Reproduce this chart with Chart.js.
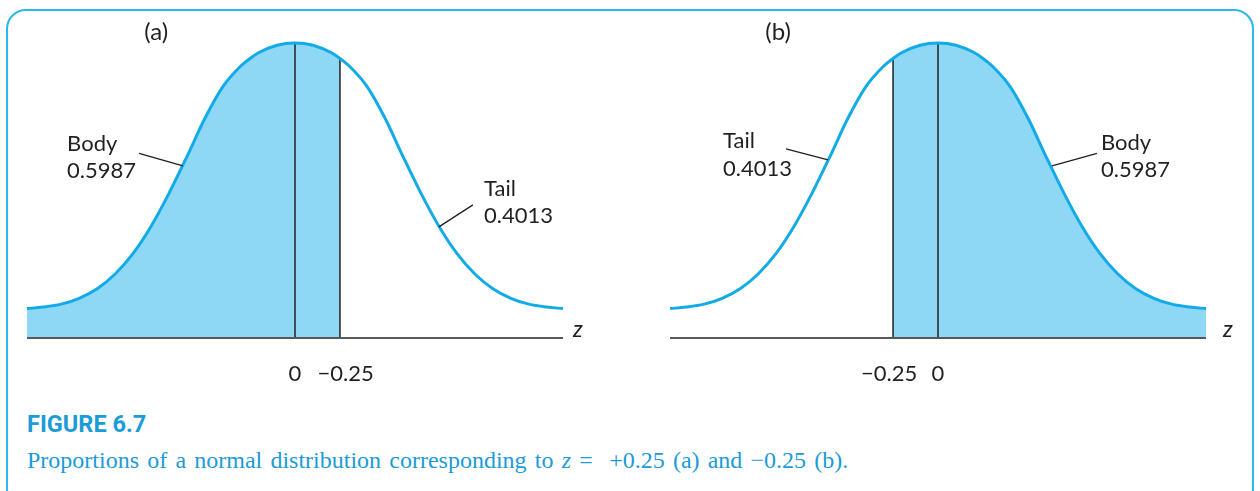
<!DOCTYPE html>
<html>
<head>
<meta charset="utf-8">
<script src="https://cdn.jsdelivr.net/npm/chart.js@4.4.0/dist/chart.umd.min.js"></script>
<style>
  html, body { margin: 0; padding: 0; background: #fff; overflow: hidden; }
  body { width: 1260px; height: 491px; position: relative; }
  #frame { position: absolute; left: 6px; top: 9px; width: 1248px; height: 500px;
           border: 2px solid #2bb8ec; border-radius: 20px; box-sizing: border-box; }
  canvas { position: absolute; top: 0; }
  #panelA { left: 0; }
  #panelB { left: 643px; }
  .fig { position: absolute; left: 27px; top: 410px; color: #1b9bd7; white-space: nowrap; line-height: 1;
         font: bold 24px Roboto, "Open Sans", sans-serif; transform: scaleX(0.98); transform-origin: left top; }
  .cap { position: absolute; left: 27px; top: 447px; color: #1b9bd7; white-space: nowrap; line-height: 1;
         font: 24px "Liberation Serif", "Times New Roman", serif; word-spacing: 2.2px; }
</style>
</head>
<body>
<div id="frame"></div>
<canvas id="panelA" width="630" height="400"></canvas>
<canvas id="panelB" width="617" height="400"></canvas>
<div class="fig">FIGURE 6.7</div>
<div class="cap">Proportions of a normal distribution corresponding to <i>z</i> =&nbsp; +0.25 (a) and −0.25 (b).</div>

<script>
// ===== CURVE =====
const zValues = [-1.49, -1.4, -1.3, -1.2, -1.1, -1.0, -0.9, -0.8, -0.7, -0.6, -0.5, -0.4, -0.3, -0.25, -0.2, -0.1,
                 0, 0.1, 0.2, 0.25, 0.3, 0.4, 0.5, 0.6, 0.7, 0.8, 0.9, 1.0, 1.1, 1.2, 1.3, 1.4, 1.49];
const heights = [0.040, 0.042, 0.046, 0.054, 0.067, 0.087, 0.115, 0.152, 0.197, 0.247, 0.299, 0.342, 0.370, 0.380, 0.388, 0.398,
                 0.401, 0.398, 0.388, 0.380, 0.370, 0.342, 0.299, 0.247, 0.197, 0.152, 0.115, 0.087, 0.067, 0.054, 0.046, 0.042, 0.040];

// z cut for each panel and which side is shaded
const cutA = 0.25;
const cutB = -0.25;
const tickLabelsA = ["0", "−0.25"];
const tickLabelsB = ["−0.25", "0"];
const bodyText = ["Body", "0.5987"];
const tailText = ["Tail", "0.4013"];

const CURVE = "#12abe8";
const SHADE = "#8ed8f6";
const INK = "#231f20";
const LABEL_FONT = '22px Lato, "DejaVu Sans", sans-serif';
const Z_FONT = 'italic 23px Lato, "DejaVu Sans", sans-serif';
const PANEL_FONT = '24px Lato, "DejaVu Sans", sans-serif';

// ===== ANNOTATION PLUGIN (texts + leader lines in data units) =====
const annotate = {
  id: "annotate",
  afterDatasetsDraw(chart, args, opts) {
    const { ctx, scales: { x, y } } = chart;
    ctx.save();
    ctx.strokeStyle = INK;
    ctx.lineWidth = 1.3;
    opts.leaders.forEach(l => {
      ctx.beginPath();
      ctx.moveTo(x.getPixelForValue(l[0]), y.getPixelForValue(l[1]));
      ctx.lineTo(x.getPixelForValue(l[2]), y.getPixelForValue(l[3]));
      ctx.stroke();
    });
    ctx.fillStyle = INK;
    ctx.textBaseline = "alphabetic";
    opts.texts.forEach(t => {
      ctx.font = t.font || LABEL_FONT;
      ctx.textAlign = t.align || "left";
      ctx.fillText(t.text, x.getPixelForValue(t.z), y.getPixelForValue(t.v));
    });
    ctx.restore();
  }
};

function heightAt(z) {
  return heights[zValues.indexOf(z)];
}

function buildPanel(id, cut, shadeLeft, padRight, notes) {
  const pts = zValues.map((z, i) => ({ x: z, y: heights[i] }));
  const shade = pts.filter(p => shadeLeft ? p.x <= cut : p.x >= cut);
  const dividers = [0, cut].map(z => ({
    data: [{ x: z, y: 0 }, { x: z, y: heightAt(z) }],
    borderColor: INK, borderWidth: 1.5, pointRadius: 0, fill: false, clip: false, tension: 0
  }));

  return new Chart(document.getElementById(id).getContext("2d"), {
    type: "line",
    data: {
      datasets: [
        { data: pts, borderColor: CURVE, borderWidth: 3, pointRadius: 0, fill: false,
          cubicInterpolationMode: "monotone", clip: false },
        { data: [{ x: zValues[0], y: 0 }, { x: zValues[zValues.length - 1], y: 0 }],
          borderColor: "#58595b", borderWidth: 2, pointRadius: 0, fill: false, clip: false, tension: 0 },
        ...dividers,
        { data: shade, borderWidth: 0, borderColor: "rgba(0,0,0,0)", backgroundColor: SHADE,
          pointRadius: 0, fill: "origin", cubicInterpolationMode: "monotone" }
      ]
    },
    options: {
      responsive: false,
      animation: false,
      events: [],
      layout: { padding: { left: 27, right: padRight, top: 29, bottom: 62 } },
      scales: {
        x: { type: "linear", min: zValues[0], max: zValues[zValues.length - 1], display: false },
        y: { min: 0, max: 0.42, display: false }
      },
      plugins: {
        legend: { display: false },
        tooltip: { enabled: false },
        annotate: notes
      }
    },
    plugins: [annotate]
  });
}

// ===== PANEL (a): z = +0.25 =====
buildPanel("panelA", cutA, true, 67, {
  leaders: [[-0.867, 0.251, -0.623, 0.234], [0.989, 0.181, 0.800, 0.151]],
  texts: [
    { text: "(a)", z: -0.772, v: 0.405, align: "center", font: PANEL_FONT },
    { text: bodyText[0], z: -1.267, v: 0.254 },
    { text: bodyText[1], z: -1.267, v: 0.217 },
    { text: tailText[0], z: 1.051, v: 0.193 },
    { text: tailText[1], z: 1.051, v: 0.156 },
    { text: tickLabelsA[0], z: 0, v: -0.058, align: "center" },
    { text: tickLabelsA[1], z: 0.281, v: -0.058, align: "center" },
    { text: "z", z: 1.573, v: 0.001, align: "center", font: Z_FONT }
  ]
});

// ===== PANEL (b): z = -0.25 =====
buildPanel("panelB", cutB, false, 54, {
  leaders: [[-0.845, 0.257, -0.611, 0.242], [0.884, 0.251, 0.634, 0.234]],
  texts: [
    { text: "(b)", z: -0.889, v: 0.405, align: "center", font: PANEL_FONT },
    { text: tailText[0], z: -1.195, v: 0.258 },
    { text: tailText[1], z: -1.195, v: 0.220 },
    { text: bodyText[0], z: 0.906, v: 0.256 },
    { text: bodyText[1], z: 0.906, v: 0.219 },
    { text: tickLabelsB[0], z: -0.272, v: -0.058, align: "center" },
    { text: tickLabelsB[1], z: 0, v: -0.058, align: "center" },
    { text: "z", z: 1.612, v: 0.001, align: "center", font: Z_FONT }
  ]
});
</script>
</body>
</html>
